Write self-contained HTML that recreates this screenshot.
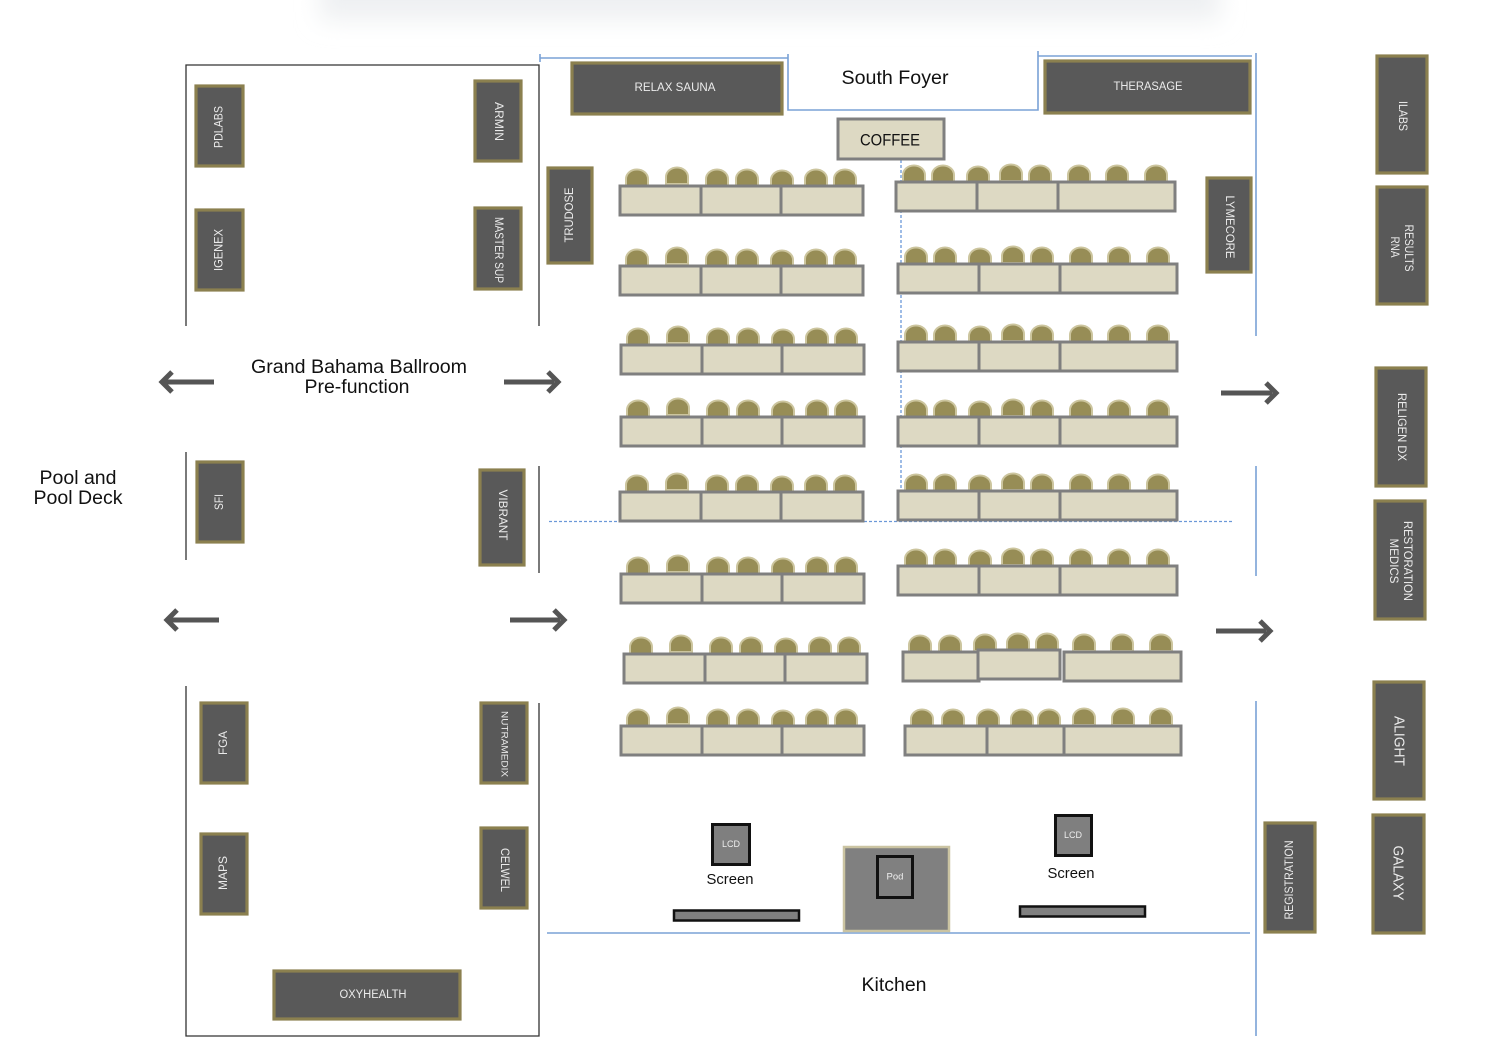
<!DOCTYPE html>
<html>
<head>
<meta charset="utf-8">
<style>
html,body{margin:0;padding:0;background:#fff;}
svg{display:block;}
.v{fill:#595959;stroke:#8b804f;stroke-width:3.2;}
.vt{fill:#ebebeb;font-family:"Liberation Sans",sans-serif;font-size:11.5px;}
.lbl{fill:#111;font-family:"Liberation Sans",sans-serif;font-size:19px;}
.bl{stroke:#7aa2d6;stroke-width:1.6;fill:none;}
.ar{stroke:#555;stroke-width:5;fill:none;}
.tb{fill:#ddd9c3;stroke:#7f7f7f;stroke-width:3;}
.dv{stroke:#7f7f7f;stroke-width:3;}
</style>
</head>
<body>
<svg width="1500" height="1061" viewBox="0 0 1500 1061" xmlns="http://www.w3.org/2000/svg">
<defs>
  <filter id="blur" x="-20%" y="-200%" width="140%" height="500%"><feGaussianBlur stdDeviation="12"/></filter>
  <path id="c" d="M-11,0 V-7 A11,9.5 0 0 1 11,-7 V0 Z" fill="#978d56" stroke="#ccc59e" stroke-width="2"/>
  <g id="tl">
    <use href="#c" x="17" y="0"/>
    <use href="#c" x="57" y="-2"/>
    <use href="#c" x="97" y="0"/>
    <use href="#c" x="127" y="0"/>
    <use href="#c" x="162" y="1"/>
    <use href="#c" x="196" y="0"/>
    <use href="#c" x="225" y="0"/>
    <rect class="tb" x="0" y="0" width="243" height="29"/>
    <path class="dv" d="M81,0V29M161,0V29"/>
  </g>
  <g id="tr">
    <use href="#c" x="18" y="0"/>
    <use href="#c" x="47" y="0"/>
    <use href="#c" x="82" y="1"/>
    <use href="#c" x="115" y="-1"/>
    <use href="#c" x="144" y="0"/>
    <use href="#c" x="183" y="0"/>
    <use href="#c" x="221" y="0"/>
    <use href="#c" x="260" y="0"/>
    <rect class="tb" x="0" y="0" width="279" height="29"/>
    <path class="dv" d="M81,0V29M162,0V29"/>
  </g>
</defs>

<!-- top shadow -->
<rect x="320" y="-30" width="900" height="50" fill="#eef0f2" filter="url(#blur)"/>

<!-- left area black walls -->
<g stroke="#333" stroke-width="1.3" fill="none">
  <path d="M186,326 V65 H539 V326"/>
  <path d="M186,452 V560"/>
  <path d="M539,466 V573"/>
  <path d="M186,686 V1036 H539 V703"/>
</g>

<!-- blue walls -->
<g class="bl">
  <path d="M540,54 V62 M540,58 H788"/>
  <path d="M788,54 V110 H1038 V51"/>
  <path d="M1038,56 H1252"/>
  <path d="M1256,53 V336"/>
  <path d="M1256,466 V576"/>
  <path d="M1256,701 V1036"/>
  <path d="M547,933 H1250"/>
</g>
<g stroke="#6b98d8" stroke-width="1.3" stroke-dasharray="3,2" fill="none">
  <path d="M901,160 V521"/>
  <path d="M549,521.5 H1232"/>
</g>

<!-- arrows -->
<g class="ar">
  <path d="M214,382 H165 M172,372 L162,382 L172,392"/>
  <path d="M504,382 H554 M548,372 L558,382 L548,392"/>
  <path d="M1221,393 H1272 M1266,383 L1276,393 L1266,403"/>
  <path d="M219,620 H170 M177,610 L167,620 L177,630"/>
  <path d="M510,620 H560 M554,610 L564,620 L554,630"/>
  <path d="M1216,631 H1266 M1260,621 L1270,631 L1260,641"/>
</g>

<!-- labels -->
<text class="lbl" x="895" y="84" text-anchor="middle" textLength="107" lengthAdjust="spacingAndGlyphs">South Foyer</text>
<text class="lbl" x="359" y="373" text-anchor="middle" textLength="216" lengthAdjust="spacingAndGlyphs">Grand Bahama Ballroom</text>
<text class="lbl" x="357" y="393" text-anchor="middle" textLength="105" lengthAdjust="spacingAndGlyphs">Pre-function</text>
<text class="lbl" x="78" y="484" text-anchor="middle" textLength="77" lengthAdjust="spacingAndGlyphs">Pool and</text>
<text class="lbl" x="78" y="504" text-anchor="middle" textLength="89" lengthAdjust="spacingAndGlyphs">Pool Deck</text>
<text class="lbl" x="894" y="991" text-anchor="middle" textLength="65" lengthAdjust="spacingAndGlyphs">Kitchen</text>

<!-- left area vendors -->
<rect class="v" x="196" y="86" width="47" height="80"/>
<text class="vt" transform="translate(219.5,127) rotate(-90)" text-anchor="middle" dominant-baseline="central" textLength="42" lengthAdjust="spacingAndGlyphs">PDLABS</text>
<rect class="v" x="196" y="210" width="47" height="80"/>
<text class="vt" transform="translate(219.5,250) rotate(-90)" text-anchor="middle" dominant-baseline="central" textLength="42" lengthAdjust="spacingAndGlyphs">IGENEX</text>
<rect class="v" x="475" y="81" width="46" height="80"/>
<text class="vt" transform="translate(498,121.5) rotate(90)" text-anchor="middle" dominant-baseline="central" textLength="39" lengthAdjust="spacingAndGlyphs">ARMIN</text>
<rect class="v" x="475" y="208" width="46" height="81"/>
<text class="vt" transform="translate(498,250) rotate(90)" text-anchor="middle" dominant-baseline="central" textLength="66" lengthAdjust="spacingAndGlyphs">MASTER SUP</text>
<rect class="v" x="197" y="462" width="46" height="80"/>
<text class="vt" transform="translate(220,502) rotate(-90)" text-anchor="middle" dominant-baseline="central" textLength="16" lengthAdjust="spacingAndGlyphs">SFI</text>
<rect class="v" x="480" y="470" width="44" height="95"/>
<text class="vt" transform="translate(502,515) rotate(90)" text-anchor="middle" dominant-baseline="central" textLength="51" lengthAdjust="spacingAndGlyphs">VIBRANT</text>
<rect class="v" x="201" y="703" width="46" height="80"/>
<text class="vt" transform="translate(224,743) rotate(-90)" text-anchor="middle" dominant-baseline="central" textLength="24" lengthAdjust="spacingAndGlyphs">FGA</text>
<rect class="v" x="201" y="834" width="46" height="80"/>
<text class="vt" transform="translate(224,873) rotate(-90)" text-anchor="middle" dominant-baseline="central" textLength="34" lengthAdjust="spacingAndGlyphs">MAPS</text>
<rect class="v" x="481" y="703" width="46" height="80"/>
<text class="vt" style="font-size:9.5px" transform="translate(504,744) rotate(90)" text-anchor="middle" dominant-baseline="central" textLength="66" lengthAdjust="spacingAndGlyphs">NUTRAMEDIX</text>
<rect class="v" x="481" y="828" width="46" height="80"/>
<text class="vt" transform="translate(504,870) rotate(90)" text-anchor="middle" dominant-baseline="central" textLength="44" lengthAdjust="spacingAndGlyphs">CELWEL</text>
<rect class="v" x="274" y="971" width="186" height="48"/>
<text class="vt" x="373" y="995" text-anchor="middle" dominant-baseline="central" textLength="67" lengthAdjust="spacingAndGlyphs">OXYHEALTH</text>

<!-- center vendors -->
<rect class="v" x="572" y="63" width="210" height="51"/>
<text class="vt" x="675" y="88" text-anchor="middle" dominant-baseline="central" textLength="81" lengthAdjust="spacingAndGlyphs">RELAX SAUNA</text>
<rect class="v" x="1045" y="61" width="205" height="52"/>
<text class="vt" x="1148" y="87" text-anchor="middle" dominant-baseline="central" textLength="69" lengthAdjust="spacingAndGlyphs">THERASAGE</text>
<rect class="v" x="548" y="168" width="44" height="95"/>
<text class="vt" transform="translate(570,215) rotate(-90)" text-anchor="middle" dominant-baseline="central" textLength="55" lengthAdjust="spacingAndGlyphs">TRUDOSE</text>
<rect class="v" x="1207" y="178" width="44" height="94"/>
<text class="vt" transform="translate(1229,227) rotate(90)" text-anchor="middle" dominant-baseline="central" textLength="63" lengthAdjust="spacingAndGlyphs">LYMECORE</text>

<!-- coffee -->
<rect x="838" y="119" width="106" height="40" fill="#ddd9c3" stroke="#7f7f7f" stroke-width="3"/>
<text x="890" y="140" text-anchor="middle" dominant-baseline="central" font-family="Liberation Sans, sans-serif" font-size="17" fill="#111" textLength="60" lengthAdjust="spacingAndGlyphs">COFFEE</text>

<!-- right vendors -->
<rect class="v" x="1377" y="56" width="50" height="117"/>
<text class="vt" transform="translate(1402,116) rotate(90)" text-anchor="middle" dominant-baseline="central" textLength="30" lengthAdjust="spacingAndGlyphs">ILABS</text>
<rect class="v" x="1377" y="187" width="50" height="117"/>
<text class="vt" transform="translate(1408,248) rotate(90)" text-anchor="middle" dominant-baseline="central" textLength="47" lengthAdjust="spacingAndGlyphs">RESULTS</text>
<text class="vt" transform="translate(1394,247) rotate(90)" text-anchor="middle" dominant-baseline="central" textLength="21" lengthAdjust="spacingAndGlyphs">RNA</text>
<rect class="v" x="1376" y="368" width="50" height="118"/>
<text class="vt" transform="translate(1401,427) rotate(90)" text-anchor="middle" dominant-baseline="central" textLength="68" lengthAdjust="spacingAndGlyphs">RELIGEN DX</text>
<rect class="v" x="1375" y="501" width="50" height="118"/>
<text class="vt" transform="translate(1407,561) rotate(90)" text-anchor="middle" dominant-baseline="central" textLength="80" lengthAdjust="spacingAndGlyphs">RESTORATION</text>
<text class="vt" transform="translate(1393,561) rotate(90)" text-anchor="middle" dominant-baseline="central" textLength="45" lengthAdjust="spacingAndGlyphs">MEDICS</text>
<rect class="v" x="1374" y="682" width="50" height="117"/>
<text class="vt" style="font-size:15px" transform="translate(1399,741) rotate(90)" text-anchor="middle" dominant-baseline="central" textLength="50" lengthAdjust="spacingAndGlyphs">ALIGHT</text>
<rect class="v" x="1373" y="815" width="51" height="118"/>
<text class="vt" style="font-size:15px" transform="translate(1398,873) rotate(90)" text-anchor="middle" dominant-baseline="central" textLength="55" lengthAdjust="spacingAndGlyphs">GALAXY</text>
<rect class="v" x="1265" y="823" width="50" height="109"/>
<text class="vt" transform="translate(1290,880) rotate(-90)" text-anchor="middle" dominant-baseline="central" textLength="79" lengthAdjust="spacingAndGlyphs">REGISTRATION</text>

<!-- left tables -->
<use href="#tl" x="620" y="186"/>
<use href="#tl" x="620" y="266"/>
<use href="#tl" x="621" y="345"/>
<use href="#tl" x="621" y="417"/>
<use href="#tl" x="620" y="492"/>
<use href="#tl" x="621" y="574"/>
<use href="#tl" x="624" y="654"/>
<use href="#tl" x="621" y="726"/>

<!-- right tables -->
<use href="#tr" x="896" y="182"/>
<use href="#tr" x="898" y="264"/>
<use href="#tr" x="898" y="342"/>
<use href="#tr" x="898" y="417"/>
<use href="#tr" x="898" y="491"/>
<use href="#tr" x="898" y="566"/>

<!-- right row 7 (irregular) -->
<g>
  <use href="#c" x="920" y="652"/>
  <use href="#c" x="950" y="652"/>
  <use href="#c" x="985" y="651"/>
  <use href="#c" x="1018" y="650"/>
  <use href="#c" x="1047" y="650"/>
  <use href="#c" x="1084" y="651"/>
  <use href="#c" x="1122" y="651"/>
  <use href="#c" x="1161" y="651"/>
  <rect class="tb" x="903" y="652" width="76" height="29"/>
  <rect class="tb" x="978" y="650" width="82" height="29"/>
  <rect class="tb" x="1064" y="652" width="117" height="29"/>
</g>
<!-- right row 8 -->
<g>
  <use href="#c" x="922" y="726"/>
  <use href="#c" x="953" y="726"/>
  <use href="#c" x="988" y="726"/>
  <use href="#c" x="1022" y="726"/>
  <use href="#c" x="1049" y="726"/>
  <use href="#c" x="1084" y="725"/>
  <use href="#c" x="1123" y="725"/>
  <use href="#c" x="1161" y="725"/>
  <rect class="tb" x="905" y="726" width="276" height="29"/>
  <path class="dv" d="M987,726V755M1064,725V755"/>
</g>

<!-- screens / pod -->
<rect x="712.5" y="824.5" width="37" height="40" fill="#7f7f7f" stroke="#111" stroke-width="3"/>
<text x="731" y="844" text-anchor="middle" dominant-baseline="central" font-family="Liberation Sans, sans-serif" font-size="9" fill="#eee">LCD</text>
<text x="730" y="884" text-anchor="middle" font-family="Liberation Sans, sans-serif" font-size="15" fill="#111" textLength="47" lengthAdjust="spacingAndGlyphs">Screen</text>
<rect x="1055.5" y="815.5" width="36" height="40" fill="#7f7f7f" stroke="#111" stroke-width="3"/>
<text x="1073" y="835" text-anchor="middle" dominant-baseline="central" font-family="Liberation Sans, sans-serif" font-size="9" fill="#eee">LCD</text>
<text x="1071" y="878" text-anchor="middle" font-family="Liberation Sans, sans-serif" font-size="15" fill="#111" textLength="47" lengthAdjust="spacingAndGlyphs">Screen</text>
<rect x="674" y="910.5" width="125" height="10" fill="#808080" stroke="#111" stroke-width="2.5"/>
<rect x="1020" y="906.5" width="125" height="10" fill="#808080" stroke="#111" stroke-width="2.5"/>
<rect x="844" y="847" width="105" height="84" fill="#808080" stroke="#cbc4a2" stroke-width="2.5"/>
<rect x="877.5" y="856.5" width="35" height="41" fill="#808080" stroke="#111" stroke-width="3"/>
<text x="895" y="877" text-anchor="middle" dominant-baseline="central" font-family="Liberation Sans, sans-serif" font-size="9.5" fill="#eee">Pod</text>
</svg>
</body>
</html>
